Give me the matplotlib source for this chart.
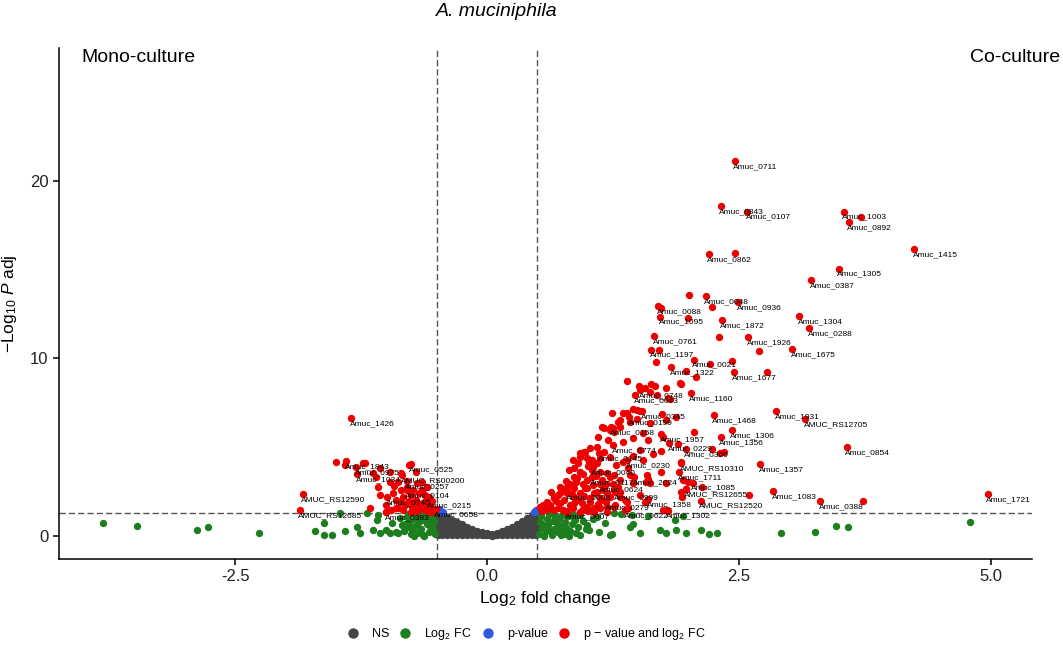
import matplotlib
matplotlib.use("Agg")
import matplotlib.pyplot as plt
from matplotlib.lines import Line2D
import numpy as np

plt.rcParams['font.family'] = ['Liberation Sans', 'DejaVu Sans']
plt.rcParams['mathtext.fontset'] = 'custom'
plt.rcParams['mathtext.rm'] = 'Liberation Sans'
plt.rcParams['mathtext.it'] = 'Liberation Sans:italic'

# ---------------- data ----------------
# labelled genes (log2FC, -log10 padj)
lab_names = ["Amuc_0711", "Amuc_0843", "Amuc_0107", "Amuc_1003", "Amuc_0892", "Amuc_0862",
             "Amuc_1415", "Amuc_1305", "Amuc_0387", "Amuc_0048", "Amuc_0936", "Amuc_0088",
             "Amuc_1095", "Amuc_1872", "Amuc_1304", "Amuc_0288", "Amuc_0761", "Amuc_1926",
             "Amuc_1675", "Amuc_1197", "Amuc_0021", "Amuc_1322", "Amuc_1677", "Amuc_0748",
             "Amuc_0043", "Amuc_1160", "Amuc_0345", "Amuc_0199", "Amuc_1468", "Amuc_1931",
             "AMUC_RS12705", "Amuc_0158", "Amuc_1306", "Amuc_1957", "Amuc_1356", "Amuc_0229",
             "Amuc_0366", "Amuc_0854", "Amuc_0774", "Amuc_0145", "Amuc_0230", "AMUC_RS10310",
             "Amuc_1357", "Amuc_0040", "Amuc_1711", "Amuc_0117", "Amuc_2024", "Amuc_1085",
             "Amuc_0624", "AMUC_RS12655", "Amuc_1083", "Amuc_0008", "Amuc_0999", "AMUC_RS12520",
             "Amuc_0388", "Amuc_1358", "Amuc_0279", "Amuc_0007", "Amuc_0622", "Amuc_1302",
             "Amuc_1721",
             "Amuc_1426", "Amuc_1843", "Amuc_0975", "Amuc_0525", "Amuc_1034", "AMUC_RS00200",
             "Amuc_0257", "Amuc_0104", "Amuc_0740", "AMUC_RS12590", "AMUC_RS12685", "Amuc_0215",
             "Amuc_0658", "Amuc_0383"]
lab_fc = [2.46, 2.32, 2.58, 3.54, 3.59, 2.20,
          4.24, 3.49, 3.22, 2.17, 2.49, 1.70,
          1.72, 2.33, 3.10, 3.20, 1.66, 2.59,
          3.03, 1.63, 2.05, 1.83, 2.45, 1.52,
          1.47, 2.02, 1.54, 1.41, 2.25, 2.87,
          3.16, 1.23, 2.43, 1.73, 2.32, 1.81,
          1.97, 3.57, 1.25, 1.11, 1.39, 1.93,
          2.71, 1.05, 1.91, 1.04, 1.46, 2.04,
          1.12, 1.97, 2.84, 0.80, 1.27, 2.12,
          3.31, 1.60, 1.18, 0.79, 1.37, 1.79,
          4.97,
          -1.35, -1.40, -1.30, -0.76, -1.29, -0.84,
          -0.80, -0.80, -0.99, -1.83, -1.86, -0.58,
          -0.51, -1.00]
lab_p = [21.14, 18.59, 18.27, 18.27, 17.70, 15.87,
         16.15, 15.06, 14.40, 13.52, 13.18, 12.94,
         12.36, 12.15, 12.38, 11.70, 11.27, 11.21,
         10.54, 10.50, 9.93, 9.50, 9.22, 8.23,
         7.94, 8.04, 7.04, 6.70, 6.82, 7.02,
         6.57, 6.14, 5.95, 5.75, 5.56, 5.24,
         4.90, 5.01, 5.10, 4.68, 4.28, 4.11,
         4.06, 3.89, 3.58, 3.32, 3.32, 3.01,
         2.93, 2.65, 2.52, 2.45, 2.45, 1.99,
         1.95, 2.08, 1.92, 1.38, 1.46, 1.44,
         2.35,
         6.63, 4.20, 3.90, 4.04, 3.49, 3.44,
         3.10, 2.59, 2.17, 2.35, 1.46, 2.03,
         1.52, 1.36]

# other genes significant by p-value and log2FC (red)
red_fc = [3.71, 2.46, 2.00, 2.23, 1.73, 1.99, 2.30, 2.70, 1.71, 1.68, 2.21, 2.43, 1.97, 2.07,
          1.93, 2.78, 1.39, 1.51, 1.57, 1.63, 1.67, 1.78, 1.62, 1.92, 1.82, 1.69, 1.80,
          1.24, 1.35, 1.45, 1.52, 1.74, 1.88, 1.30, 1.16, 1.25, 1.49, 1.14, 1.22, 1.32, 1.42,
          1.62, 1.78, 1.26, 1.32, 1.75, 1.49, 1.39,
          1.73, 2.23, 2.35, 2.31, 1.93, 1.78, 1.60, 1.58, 1.97, 1.99, 2.60, 1.94, 3.73, 1.79,
          0.92, 0.97, 1.02, 1.09, 1.16, 1.22, 1.12, 1.04, 0.99, 1.35, 1.52,
          0.81, 0.92, 0.86, 0.99, 1.12, 1.22, 1.32, 1.59, 1.60, 1.95, 1.93, 2.13,
          0.72, 0.79, 0.86, 0.92, 0.99, 1.06, 1.12, 1.19, 1.26, 1.32, 1.39, 0.66, 0.59, 0.53,
          0.72, 0.86, 0.99, 1.12, 1.26, 1.75, 1.80, 0.58, 0.66, 0.79, 0.92, 1.06, 1.19,
          0.96, 0.92, 1.01, 0.86, 0.89, 0.79, 0.72, 0.66, 0.59, 0.63, 0.56, 0.53,
          0.76, 0.86, 0.82, 0.94, 1.02, 1.09, 1.16, 1.22, 1.32, 1.27, 1.40, 1.19, 1.14, 1.26,
          1.04, 1.09, 0.97, 1.19, 1.06, 1.57, 1.52, 1.37, 1.45, 1.42, 1.62, 1.73,
          0.55, 0.62, 0.70, 0.75, 0.85, 0.95, 1.00, 1.10, 1.15, 0.68, 0.74, 0.82, 0.88, 0.95,
          1.05, 0.78, 0.84, 0.90, 0.96, 1.02, 0.70, 0.62, 1.15, 1.25, 1.30, 1.18, 1.08, 0.95,
          1.00, 0.90, 0.85, 1.28, 1.40, 1.45, 1.55, 1.65, 1.35, 1.45, 1.20, 1.10, 1.55, 1.60,
          1.90, 2.05,
          -1.50, -1.21, -1.13, -0.96, -1.41, -1.23, -1.06, -0.85, -0.78, -0.71, -0.88, -0.96,
          -1.08, -1.06, -0.93, -0.90, -1.00, -1.16, -1.00, -0.90, -0.65, -0.60, -0.65, -0.70,
          -0.80, -0.76, -0.83, -0.71, -0.63, -0.57, -0.81, -0.75, -0.68, -0.62, -0.83, -0.76,
          -0.57, -0.55, -0.60, -0.66, -0.72, -0.78, -0.86, -0.70, -0.88, -0.95, -0.53, -0.58,
          -0.68, -0.74, -0.62, -0.85, -0.92, -1.10, -0.55]
red_p = [17.95, 15.96, 13.56, 12.92, 12.86, 12.30, 11.19, 10.44, 10.48, 9.79, 9.71, 9.86, 9.31, 8.98,
         8.56, 9.26, 8.73, 8.47, 8.36, 8.56, 8.43, 8.36, 8.13, 8.60, 7.70, 7.94, 7.76,
         6.95, 6.91, 7.14, 7.06, 6.87, 6.69, 6.44, 6.07, 6.07, 6.57, 6.12, 5.97, 6.54, 6.44,
         6.35, 6.54, 5.88, 6.16, 5.60, 7.10, 6.91,
         4.81, 4.92, 4.75, 4.66, 4.15, 2.97, 3.20, 3.05, 2.63, 3.04, 2.31, 2.18, 1.95, 1.46,
         4.66, 4.75, 4.94, 5.03, 4.75, 4.47, 4.38, 4.28, 4.38, 4.19, 4.85,
         3.72, 3.62, 3.34, 3.15, 3.62, 3.34, 3.15, 3.44, 3.15, 3.15, 2.50, 2.78,
         2.78, 2.40, 2.69, 2.40, 2.69, 2.40, 2.12, 2.40, 2.59, 2.21, 1.93, 2.12, 1.84, 1.65,
         1.84, 1.84, 1.65, 1.56, 1.65, 1.46, 1.43, 1.46, 1.46, 1.37, 1.37, 1.37, 1.36,
         4.75, 4.47, 4.19, 3.81, 3.25, 2.78, 2.40, 2.21, 1.93, 2.50, 1.75, 1.62,
         2.03, 2.21, 1.75, 1.84, 2.12, 2.50, 2.78, 2.21, 2.50, 1.75, 1.56, 3.53, 3.15, 3.44,
         3.72, 4.10, 2.69, 1.65, 1.56, 1.93, 2.31, 2.03, 2.97, 3.44, 2.97, 3.62,
         1.40, 1.55, 1.60, 1.45, 1.55, 1.50, 1.42, 1.80, 2.00, 1.95, 2.60, 2.95, 3.05, 2.95,
         2.85, 3.10, 2.35, 2.05, 2.25, 1.90, 2.30, 1.75, 2.60, 2.95, 2.75, 2.92, 3.40, 3.50,
         3.95, 4.10, 4.30, 4.00, 3.80, 4.50, 4.30, 4.60, 5.30, 5.50, 5.40, 5.60, 5.80, 5.40,
         5.20, 5.85,
         4.17, 4.13, 3.57, 3.62, 4.00, 4.10, 3.81, 3.53, 4.00, 3.62, 3.06, 3.06,
         2.78, 2.31, 2.40, 2.03, 1.75, 1.56, 1.37, 1.56, 2.59, 2.78, 3.06, 2.97,
         2.78, 2.31, 2.21, 2.03, 1.93, 1.75, 1.75, 1.65, 1.56, 1.46, 1.46, 1.37,
         1.37, 1.50, 1.65, 1.80, 1.85, 1.95, 1.90, 1.42, 1.60, 1.45, 1.40, 2.20,
         2.40, 2.60, 2.30, 2.60, 2.80, 3.30, 1.95]

# genes passing log2FC only (green)
green_fc = [4.79, -3.81, -3.48, -2.88, -2.77, -2.26,
            -1.71, -1.62, -1.54, -1.62, -1.46, -1.41, -1.29, -1.26, -1.19, -1.08, -1.09, -1.13,
            -1.06, -1.00, -0.96, -0.90, -0.94,
            1.01, 0.92, 1.11, 1.22, 1.42, 1.52, 1.72, 1.78, 1.88, 1.09, 1.26, 1.44, 0.99, 0.87,
            1.97, 2.12, 2.20, 2.28, 2.92, 3.26, 3.46, 3.58, 1.95, 1.45, 1.24, 1.33, 1.60, 1.87,
            1.17, 1.05,
            0.52, 0.55, 0.53, 0.54, 0.58, 0.60, 0.59, 0.61, 0.64, 0.66, 0.65, 0.67, 0.70, 0.72,
            0.71, 0.74, 0.76, 0.78, 0.77, 0.80, 0.82, 0.84, 0.86, 0.88, 0.90, 0.92, 0.57, 0.69,
            0.63, 0.75, 0.81, 0.95, 0.98, 0.56, 0.62, 0.73, 0.85, 0.68,
            -0.52, -0.54, -0.53, -0.55, -0.58, -0.60, -0.59, -0.62, -0.64, -0.66, -0.65, -0.68,
            -0.70, -0.72, -0.71, -0.74, -0.76, -0.78, -0.77, -0.80, -0.82, -0.84, -0.86, -0.88,
            -0.57, -0.63, -0.69, -0.75, -0.81, -0.56, -0.67, -0.79, -0.73]
green_p = [0.81, 0.75, 0.58, 0.34, 0.52, 0.15,
           0.30, 0.06, 0.06, 0.71, 1.28, 0.30, 0.49, 0.15, 1.28, 1.18, 0.90, 0.34,
           0.15, 0.34, 0.15, 0.24, 0.71,
           0.34, 0.06, 0.24, 0.06, 0.52, 0.15, 0.34, 0.15, 0.34, 1.09, 1.28, 1.18, 0.62, 0.90,
           0.15, 0.34, 0.11, 0.15, 0.19, 0.21, 0.58, 0.52, 1.13, 0.68, 0.11, 1.24, 1.14, 0.90,
           0.75, 0.95,
           0.12, 0.42, 0.78, 1.12, 0.25, 0.62, 0.98, 1.22, 0.08, 0.40, 0.85, 1.15, 0.20, 0.55,
           0.95, 1.20, 0.10, 0.45, 0.80, 1.10, 0.30, 0.65, 1.00, 0.18, 0.52, 1.18, 0.00, 0.72,
           1.28, 0.35, 0.02, 0.85, 0.40, 0.62, 0.30, 0.05, 1.25, 0.98,
           0.10, 0.45, 0.82, 1.15, 0.22, 0.65, 1.02, 1.25, 0.05, 0.38, 0.88, 1.12,
           0.18, 0.58, 0.98, 1.22, 0.12, 0.48, 0.82, 1.08, 0.28, 0.62, 1.00, 0.15,
           0.55, 0.02, 0.75, 0.32, 0.70, 0.92, 1.28, 1.25, 0.00]

# genes passing p-value only (blue)
blue_fc = [-0.46, -0.44, -0.48, 0.48, 0.47, 0.49]
blue_p = [1.42, 1.36, 1.50, 1.40, 1.35, 1.48]

# non-significant genes (grey)
ns_fc = [-0.49, -0.49, -0.49, -0.49, -0.49, -0.49,
         -0.45, -0.45, -0.45, -0.45, -0.45, -0.45,
         -0.40, -0.40, -0.40, -0.40, -0.40,
         -0.35, -0.35, -0.35, -0.35, -0.35,
         -0.30, -0.30, -0.30, -0.30,
         -0.25, -0.25, -0.25, -0.25,
         -0.20, -0.20, -0.20,
         -0.15, -0.15, -0.15,
         -0.10, -0.10,
         -0.05, -0.05,
         0.00, 0.00,
         0.05, 0.05,
         0.10, 0.10,
         0.15, 0.15,
         0.20, 0.20, 0.20,
         0.25, 0.25, 0.25,
         0.30, 0.30, 0.30, 0.30,
         0.35, 0.35, 0.35, 0.35,
         0.40, 0.40, 0.40, 0.40, 0.40,
         0.45, 0.45, 0.45, 0.45, 0.45, 0.45,
         0.49, 0.49, 0.49, 0.49, 0.49, 0.49,
         -0.47, -0.47, -0.42, -0.42, -0.37, -0.32, -0.27, -0.22, -0.17, -0.12, -0.07,
         -0.02, 0.03, 0.08, 0.13, 0.18, 0.23, 0.28, 0.33, 0.38, 0.38, 0.43, 0.43, 0.47, 0.47]
ns_p = [0.05, 0.30, 0.55, 0.80, 1.05, 1.28,
        0.05, 0.30, 0.55, 0.80, 1.00, 1.18,
        0.05, 0.30, 0.55, 0.80, 1.05,
        0.05, 0.30, 0.55, 0.75, 0.92,
        0.05, 0.30, 0.55, 0.78,
        0.05, 0.30, 0.50, 0.65,
        0.05, 0.30, 0.52,
        0.05, 0.25, 0.40,
        0.05, 0.30,
        0.05, 0.20,
        0.03, 0.16,
        0.02, 0.12,
        0.03, 0.15,
        0.05, 0.25,
        0.05, 0.22, 0.38,
        0.05, 0.30, 0.52,
        0.05, 0.30, 0.50, 0.68,
        0.05, 0.30, 0.55, 0.85,
        0.05, 0.30, 0.55, 0.80, 1.02,
        0.05, 0.30, 0.55, 0.80, 1.00, 1.18,
        0.05, 0.30, 0.55, 0.80, 1.05, 1.28,
        0.18, 0.92, 0.42, 0.68, 0.45, 0.20, 0.18, 0.18, 0.15, 0.12, 0.10,
        0.08, 0.06, 0.07, 0.10, 0.14, 0.18, 0.20, 0.45, 0.20, 0.72, 0.42, 0.92, 0.18, 0.68]

FC_CUT = 0.5
P_CUT = 1.30

COL_NS = '#444444'
COL_FC = '#1E7D1E'
COL_P = '#2F5BE0'
COL_BOTH = '#EE0000'

# ---------------- figure ----------------
fig = plt.figure(figsize=(10.63, 6.48), dpi=100)
ax = fig.add_axes([59 / 1063, 89 / 648, 973 / 1063, 511 / 648])

ms = 28
ax.scatter(ns_fc, ns_p, s=ms, c=COL_NS, linewidths=0, zorder=2)
ax.scatter(green_fc, green_p, s=ms, c=COL_FC, linewidths=0, zorder=2)
ax.scatter(blue_fc, blue_p, s=ms, c=COL_P, linewidths=0, zorder=2)
ax.scatter(red_fc, red_p, s=ms, c=COL_BOTH, linewidths=0, zorder=2)
ax.scatter(lab_fc, lab_p, s=ms, c=COL_BOTH, linewidths=0, zorder=2)

for name, xv, yv in zip(lab_names, lab_fc, lab_p):
    ax.annotate(name, (xv, yv), xytext=(-1, -1.5), textcoords='offset points',
                ha='left', va='top', fontsize=6, color='black', zorder=4)

dash = dict(color='#555555', lw=1.0, dashes=(4.5, 2.2), zorder=1)
ax.axvline(-FC_CUT, **dash)
ax.axvline(FC_CUT, **dash)
ax.axhline(P_CUT, **dash)

ax.set_xlim(-4.25, 5.41)
ax.set_ylim(-1.30, 27.49)
ax.set_xticks([-2.5, 0.0, 2.5, 5.0])
ax.set_xticklabels(['-2.5', '0.0', '2.5', '5.0'])
ax.set_yticks([0, 10, 20])
for s in ['top', 'right']:
    ax.spines[s].set_visible(False)
for s in ['left', 'bottom']:
    ax.spines[s].set_linewidth(1.1)
ax.tick_params(axis='both', labelsize=12, length=4, width=1.1, color='black', labelcolor='#222222')

ax.set_xlabel(r'$\mathrm{Log}_{2}$ fold change', fontsize=12.5, labelpad=3)
ax.set_ylabel(r'$-\mathrm{Log}_{10}\ \mathit{P}\ \mathrm{adj}$', fontsize=12.5, labelpad=8)

fig.text(497 / 1063, 1 - 12 / 648, 'A. muciniphila', ha='center', va='center',
         fontsize=14, style='italic')
ax.text(81 / 1063, 1 - 58 / 648, 'Mono-culture', transform=fig.transFigure,
        ha='left', va='center', fontsize=14)
ax.text(1060 / 1063, 1 - 58 / 648, 'Co-culture', transform=fig.transFigure,
        ha='right', va='center', fontsize=14)

handles = [Line2D([], [], marker='o', ls='', color=c, markersize=6.5)
           for c in [COL_NS, COL_FC, COL_P, COL_BOTH]]
labels = ['NS', r'$\mathrm{Log}_{2}$ FC', 'p-value', r'p $-$ value and log$_{2}$ FC']
fig.legend(handles, labels, loc='center', bbox_to_anchor=(526 / 1063, 1 - 634 / 648),
           ncol=4, frameon=False, fontsize=9, handlelength=1.0, handletextpad=1.0,
           columnspacing=0.8)

fig.savefig('out.png', dpi=100)
